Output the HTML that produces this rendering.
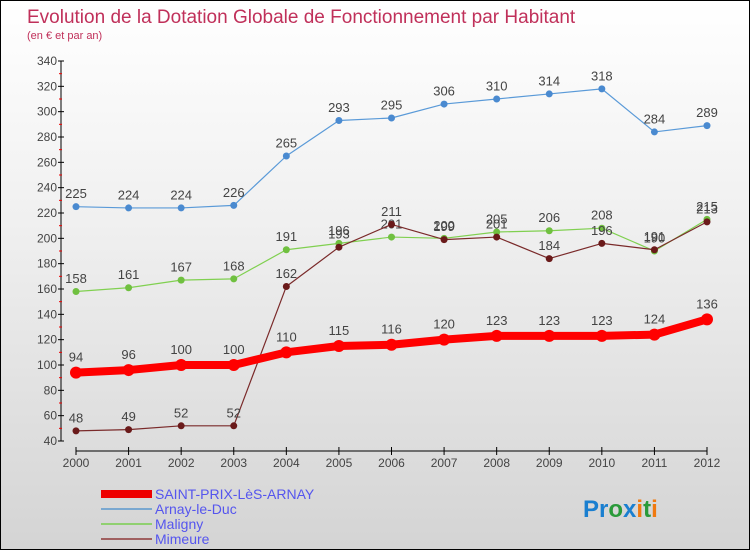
<!DOCTYPE html>
<html><head><meta charset="utf-8"><style>
body{margin:0}
#c{position:relative;width:748px;height:548px;border:1px solid #000;background:linear-gradient(#fff,#f0f0f0 40%,#d4d4d4);font-family:"Liberation Sans",sans-serif;overflow:hidden}
</style></head><body>
<div id="c">
<svg id="s" width="748" height="548" style="position:absolute;left:0;top:0">
<text x="26" y="22" font-size="19" fill="#c0305a">Evolution de la Dotation Globale de Fonctionnement par Habitant</text>
<text x="26" y="38" font-size="11" fill="#c0305a">(en € et par an)</text>
<g id="axes"></g><g id="series"></g>
<g>
<rect x="100" y="489" width="51" height="8" fill="#e00"/>
<text x="154" y="498" font-size="14" fill="#55e">SAINT-PRIX-LèS-ARNAY</text>
<rect x="100" y="507" width="51" height="2" fill="#7aa8d0"/>
<text x="154" y="513" font-size="14" fill="#55e">Arnay-le-Duc</text>
<rect x="100" y="522" width="51" height="2" fill="#90d070"/>
<text x="154" y="528" font-size="14" fill="#55e">Maligny</text>
<rect x="100" y="537" width="51" height="2" fill="#a06060"/>
<text x="154" y="543" font-size="14" fill="#55e">Mimeure</text>
</g>
<text x="582" y="516" font-size="24" font-weight="bold"><tspan fill="#1a7fd0">Pr</tspan><tspan fill="#2a9a3a">o</tspan><tspan fill="#1a7fd0">x</tspan><tspan fill="#f07a10">i</tspan><tspan fill="#2a9a3a">t</tspan><tspan fill="#f07a10">i</tspan></text>
</svg>
</div>
<script>
const years=["2000","2001","2002","2003","2004","2005","2006","2007","2008","2009","2010","2011","2012"];
const yTicks=[40,60,80,100,120,140,160,180,200,220,240,260,280,300,320,340];
const saintPrix=[94,96,100,100,110,115,116,120,123,123,123,124,136];
const arnay=[225,224,224,226,265,293,295,306,310,314,318,284,289];
const maligny=[158,161,167,168,191,196,201,200,205,206,208,190,215];
const mimeure=[48,49,52,52,162,193,211,199,201,184,196,191,213];
const NS="http://www.w3.org/2000/svg";
const X=i=>75+i*(631/12);
const Y=v=>440-(v-40)*(380/300);
function mk(t,a,p){const e=document.createElementNS(NS,t);for(const k in a)e.setAttribute(k,a[k]);p.appendChild(e);return e;}
const ax=document.getElementById('axes');
let l=mk('line',{x1:60,y1:60,x2:60,y2:440,stroke:'#000'},ax);


l=mk('line',{x1:75,y1:450,x2:706,y2:450,stroke:'#000'},ax);


yTicks.forEach(v=>{
 mk('line',{x1:57,x2:63,y1:Y(v),y2:Y(v),stroke:'#000'},ax);
 if(v<340) mk('line',{x1:58,x2:61,y1:Y(v+10),y2:Y(v+10),stroke:'#e00'},ax);
 const t=mk('text',{x:56,y:Y(v)+4,'text-anchor':'end','font-size':12,fill:'#444'},ax);t.textContent=v;
 
 
});
years.forEach((y,i)=>{
 mk('line',{x1:X(i),x2:X(i),y1:446,y2:454,stroke:'#000'},ax);
 const t=mk('text',{x:X(i),y:466,'text-anchor':'middle','font-size':12,fill:'#444'},ax);t.textContent=y;
 
 
});
const sg=document.getElementById('series');
function series(d,name,col,dot,w,r){
 const p=mk('polyline',{points:d.map((v,i)=>X(i)+','+Y(v)).join(' '),fill:'none',stroke:col,'stroke-width':w,'stroke-linejoin':'round'},sg);
 
 
 d.forEach((v,i)=>{
  const c=mk('circle',{cx:X(i),cy:Y(v),r:r,fill:dot},sg);
  
  
  const t=mk('text',{x:X(i),y:Y(v)-(r+5),'text-anchor':'middle','font-size':13,fill:'#444'},sg);t.textContent=v;
  
  
 });
}
series(arnay,'arnay','#5a9ad8','#4a8ad0',1.2,3.5);
series(maligny,'maligny','#80d050','#70c040',1.2,3.5);
series(mimeure,'mimeure','#7a2a2a','#6a1a1a',1.2,3.5);
series(saintPrix,'saint-prix','#f00','#f00',8,6);
</script>
</body></html>
